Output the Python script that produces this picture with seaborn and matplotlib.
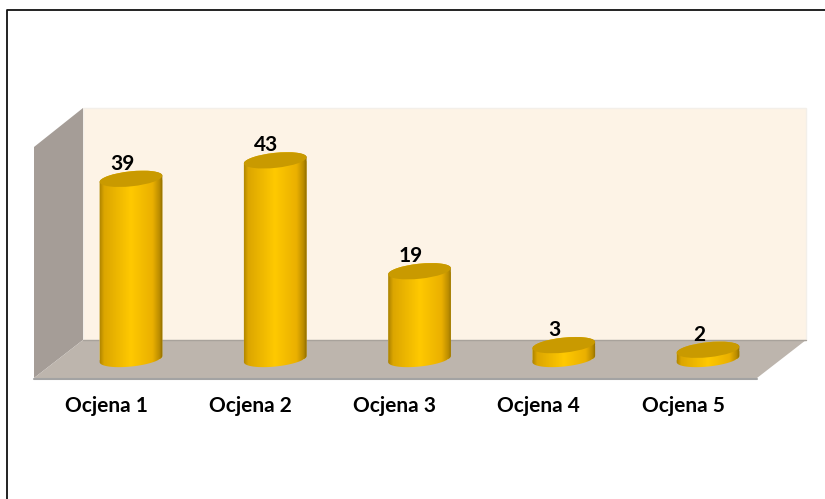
import numpy as np
import matplotlib
matplotlib.use('Agg')
import matplotlib.pyplot as plt
import seaborn as sns
from matplotlib.colors import LinearSegmentedColormap
from matplotlib.patches import Polygon, Ellipse
from matplotlib.path import Path
from matplotlib.transforms import Affine2D, IdentityTransform, ScaledTranslation

categories = ['Ocjena 1', 'Ocjena 2', 'Ocjena 3', 'Ocjena 4', 'Ocjena 5']
values = [39, 43, 19, 3, 2]

W, H = 825, 499
px = Affine2D().scale(1, -1).translate(0, H)  # image pixels, y going down

sns.set_theme(style='white')
plt.rcParams['font.family'] = ['Lato', 'DejaVu Sans']

fig = plt.figure(figsize=(W / 100, H / 100), dpi=100)
ax = fig.add_axes([34 / W, (H - 378) / H, (806 - 34) / W, (378 - 108) / H])
ax.patch.set_alpha(0)

# bars
bar_w = 64 / 144.25
sns.barplot(x=categories, y=values, width=bar_w, color='#ffc800', ax=ax, zorder=2)

# category 0 sits at x=131px, value 0 at y=359px
ax.set_xlim((34 - 131) / 144.25, (806 - 131) / 144.25)
ax.set_ylim((359 - 378) / 4.62, (359 - 108) / 4.62)
ax.set_xlabel('')
ax.set_ylabel('')
sns.despine(ax=ax, left=True, bottom=True, top=True, right=True)
ax.set_yticks([])
ax.tick_params(axis='x', length=0, pad=13)
for lab in ax.get_xticklabels():
    lab.set_fontsize(15)
    lab.set_fontweight('bold')
    lab.set_color('black')
    lab.set_transform(lab.get_transform() + ScaledTranslation(-25 / 100, 0, fig.dpi_scale_trans))

# walls of the 3d box
ax.add_patch(Polygon([(83, 108), (806, 108), (806, 340), (83, 340)], transform=px, fc='#fdf3e6', ec='#f3efe9', lw=1, zorder=0.5, clip_on=False))
ax.add_patch(Polygon([(34, 147), (83, 108), (83, 340), (34, 378)], transform=px, fc='#a59d97', ec='none', zorder=0.6, clip_on=False))
ax.add_patch(Polygon([(34, 378), (83, 340), (806, 340), (757, 378)], transform=px, fc='#bdb5ad', ec='none', zorder=0.7, clip_on=False))
ax.plot([34, 757], [379, 379], transform=px, color='#a3a3a3', lw=1.5, zorder=0.8, clip_on=False)
ax.plot([83, 806], [340, 340], transform=px, color='#a8a29b', lw=1, zorder=0.8, clip_on=False)

# cylinder shading
shade = LinearSegmentedColormap.from_list('shade', [(0, '#a88000'), (0.08, '#dca600'), (0.5, '#ffc900'), (0.84, '#eab000'), (0.95, '#b98b00'), (1, '#8a6800')])
grad = np.linspace(0, 1, 256).reshape(1, -1)
a, b, tilt = 31.5, 7.5, np.deg2rad(6)
t0 = np.arctan2(-b * np.sin(tilt), a * np.cos(tilt))


def half_ellipse(cx, cy, start):
    t = np.linspace(start, start + np.pi, 40)
    xs = cx + a * np.cos(t) * np.cos(tilt) - b * np.sin(t) * np.sin(tilt)
    ys = cy + a * np.cos(t) * np.sin(tilt) + b * np.sin(t) * np.cos(tilt)
    return np.column_stack([xs, ys])


for i, v in enumerate(values):
    top = ax.transData.transform((i, v))
    base = ax.transData.transform((i, 0))
    lower = half_ellipse(base[0], base[1], t0 + np.pi)
    upper = half_ellipse(top[0], top[1], t0)
    body = Path(np.vstack([lower, upper, lower[:1]]), closed=True)
    ax.patches[i].set_clip_path(body, IdentityTransform())
    im = ax.imshow(grad, cmap=shade, aspect='auto', zorder=2.5,
                   extent=(i - bar_w / 2, i + bar_w / 2, -5, v + 5))
    im.set_clip_path(body, IdentityTransform())
    ax.add_patch(Ellipse(top, 2 * a, 2 * b, angle=6, transform=IdentityTransform(), fc='#c99a00', ec='none', zorder=3))
    ax.annotate(str(v), (i, v), xytext=(-9 * 0.72, 5 * 0.72), textcoords='offset points', ha='center', va='bottom',
                fontsize=15, fontweight='bold', color='black', zorder=4)

ax.set_xlim((34 - 131) / 144.25, (806 - 131) / 144.25)
ax.set_ylim((359 - 378) / 4.62, (359 - 108) / 4.62)

# outer frame, only top and left reach the picture
fig.add_artist(plt.Line2D([7, 7, 825], [H, 10, 10], transform=px, color='#111111', lw=1.3))

fig.savefig('out.png', dpi=100)
